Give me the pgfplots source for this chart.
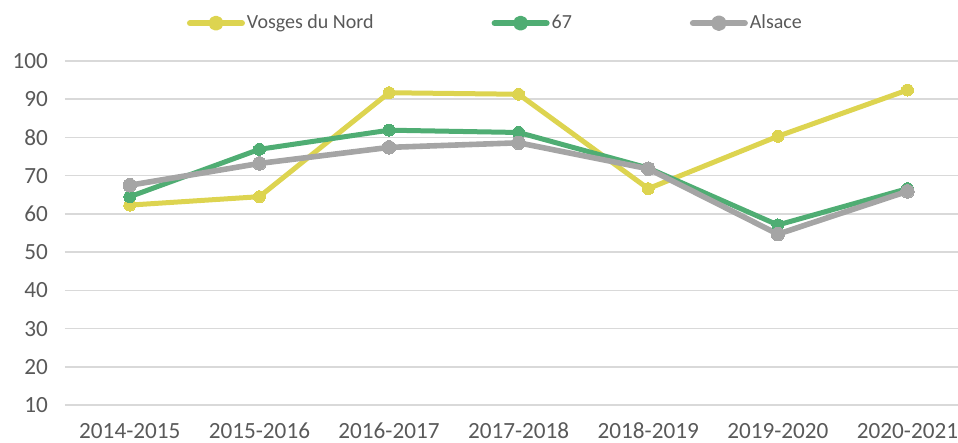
\documentclass[border=0pt]{standalone}
\usepackage{pgfplots}
\pgfplotsset{compat=1.18}
\usepackage{fontspec}
\setmainfont{Carlito}
\definecolor{cyel}{RGB}{221,212,80}
\definecolor{cgrn}{RGB}{79,173,115}
\definecolor{cgry}{RGB}{165,165,165}
\definecolor{ctxt}{RGB}{89,89,89}
\definecolor{cgrid}{RGB}{217,217,217}
\begin{document}
\begin{tikzpicture}
\begin{axis}[
  at={(0,0)}, anchor=south west,
  scale only axis,
  width=446.5pt, height=172pt,
  xmin=-0.5, xmax=6.39,
  ymin=10, ymax=100,
  ytick={10,20,...,100},
  xtick={0,...,6},
  xticklabels={2014-2015,2015-2016,2016-2017,2017-2018,2018-2019,2019-2020,2020-2021},
  axis line style={draw=none},
  major tick length=0pt,
  ymajorgrids,
  grid style={cgrid, line width=0.75pt},
  tick label style={font=\fontsize{11.6}{14}\selectfont, text=ctxt},
  /pgf/number format/assume math mode=true,
  yticklabel style={xshift=-5pt},
  xticklabel style={yshift=-5.5pt},
  clip=false,
  legend columns=3,
  legend style={draw=none, fill=none, at={(0.482,1.11)}, anchor=center,
    font=\fontsize{10}{12}\selectfont, text=ctxt,
    nodes={inner xsep=1pt},
    /tikz/every even column/.append style={column sep=58pt}},
  legend image code/.code={
    \draw[#1, line width=3pt, line cap=round, mark=none] (0pt,0pt) -- (26pt,0pt);
    \fill[#1] (13pt,0pt) circle (2.5pt);
  },
]
\addplot[cyel, line width=2.5pt, line join=round, mark=*, mark size=3pt, mark options={fill=cyel, draw=cyel, line width=0pt}]
  coordinates {(0,62.3) (1,64.5) (2,91.7) (3,91.3) (4,66.6) (5,80.3) (6,92.4)};
\addlegendentry{Vosges du Nord}
\addplot[cgrn, line width=2.5pt, line join=round, mark=*, mark size=3pt, mark options={fill=cgrn, draw=cgrn, line width=0pt}]
  coordinates {(0,64.5) (1,76.9) (2,81.9) (3,81.3) (4,72.0) (5,57.1) (6,66.6)};
\addlegendentry{67}
\addplot[cgry, line width=2.8pt, line join=round, mark=*, mark size=3.4pt, mark options={fill=cgry, draw=cgry, line width=0pt}]
  coordinates {(0,67.5) (1,73.2) (2,77.4) (3,78.6) (4,71.8) (5,54.7) (6,65.9)};
\addlegendentry{Alsace}
\end{axis}
\pgfresetboundingbox
\path[use as bounding box] (-32.5pt,-19pt) rectangle (446.5pt,202.5pt);
\end{tikzpicture}
\end{document}
